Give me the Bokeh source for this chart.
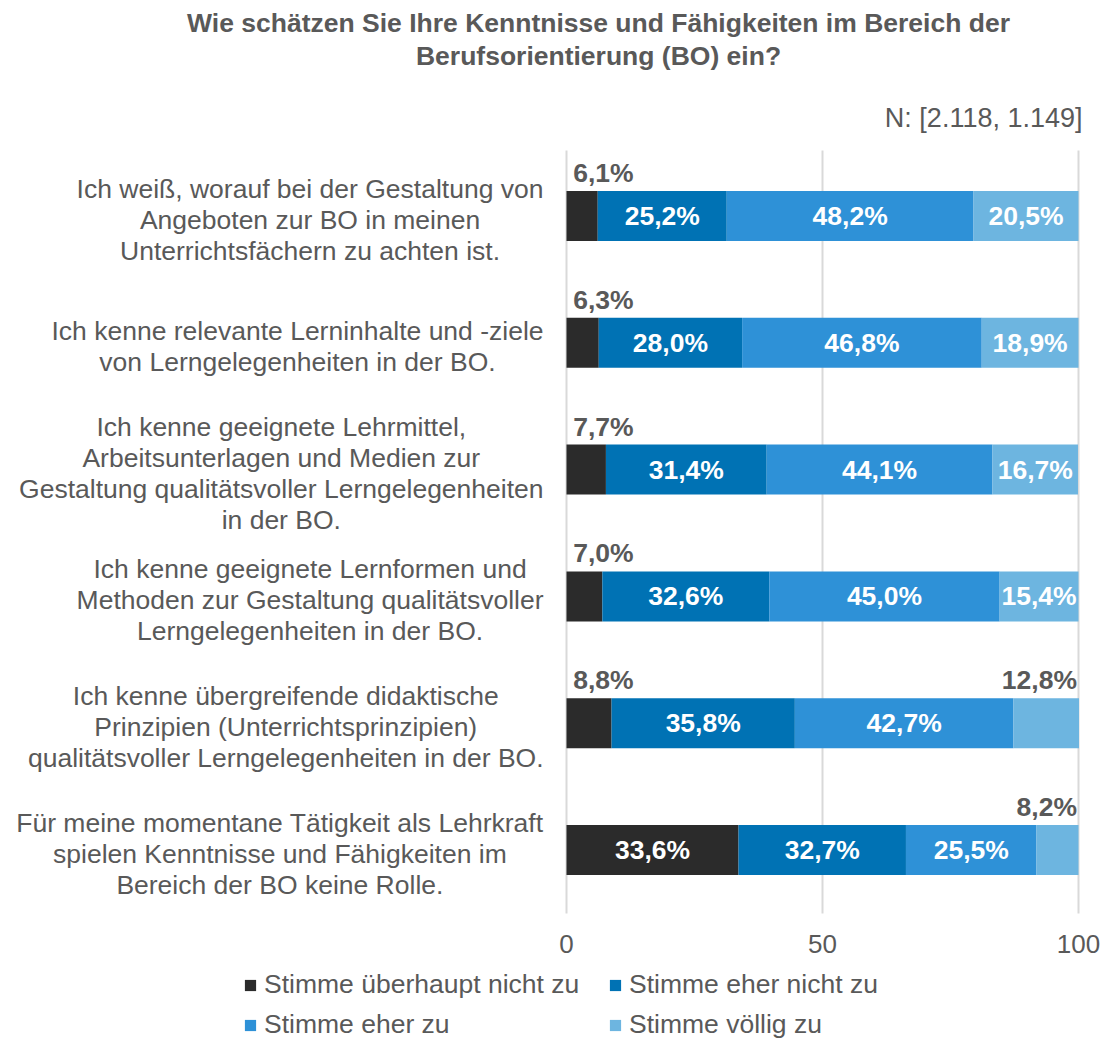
from bokeh.plotting import figure
from bokeh.models import ColumnDataSource, Range1d, Legend, LegendItem
from bokeh.embed import file_html
from bokeh.resources import INLINE
from bokeh.core.properties import value

# ---------------- data ----------------
title_lines = ["Wie schätzen Sie Ihre Kenntnisse und Fähigkeiten im Bereich der",
               "Berufsorientierung (BO) ein?"]
n_text = "N: [2.118, 1.149]"
categories = [
    ["Ich weiß, worauf bei der Gestaltung von", "Angeboten zur BO in meinen",
     "Unterrichtsfächern zu achten ist."],
    ["Ich kenne relevante Lerninhalte und -ziele", "von Lerngelegenheiten in der BO."],
    ["Ich kenne geeignete Lehrmittel,", "Arbeitsunterlagen und Medien zur",
     "Gestaltung qualitätsvoller Lerngelegenheiten", "in der BO."],
    ["Ich kenne geeignete Lernformen und", "Methoden zur Gestaltung qualitätsvoller",
     "Lerngelegenheiten in der BO."],
    ["Ich kenne übergreifende didaktische", "Prinzipien (Unterrichtsprinzipien)",
     "qualitätsvoller Lerngelegenheiten in der BO."],
    ["Für meine momentane Tätigkeit als Lehrkraft", "spielen Kenntnisse und Fähigkeiten im",
     "Bereich der BO keine Rolle."],
]
series_names = ["Stimme überhaupt nicht zu", "Stimme eher nicht zu",
                "Stimme eher zu", "Stimme völlig zu"]
s_ueberhaupt_nicht = [6.1, 6.3, 7.7, 7.0, 8.8, 33.6]
s_eher_nicht = [25.2, 28.0, 31.4, 32.6, 35.8, 32.7]
s_eher_zu = [48.2, 46.8, 44.1, 45.0, 42.7, 25.5]
s_voellig = [20.5, 18.9, 16.7, 15.4, 12.8, 8.2]
x_ticks = [0, 50, 100]

# ---------------- style ----------------
colors = ["#2B2B2B", "#0072B4", "#2E91D7", "#6DB5E0"]
GRAY = "#595959"
FONT = "Liberation Sans"
LBL_FS = 26.5
VAL_FS = 26.5
OUTSIDE_THRESHOLD = 13

W, H = 1100, 1040
PL, PR, PT, PB = 566, 1078, 152, 913      # plot area (value 0..100, rows) in px
PXX = (PR - PL) / 100.0
PXY = (PB - PT) / 6.0
BAR_H = 50 / PXY

def X(px):
    return (px - PL) / PXX

def Y(py):
    return -0.5 + (py - PT) / PXY

# frame spans the whole canvas; everything drawn through its scales
p = figure(width=W, height=H, x_range=Range1d(X(0), X(W)), y_range=Range1d(Y(H), Y(0)),
           min_border=0, output_backend="svg", toolbar_location=None,
           x_axis_location=None, y_axis_location=None)
p.outline_line_color = None
p.background_fill_color = "white"
p.border_fill_color = "white"
p.xgrid.visible = False
p.ygrid.visible = False

# approx Arial widths (1/1000 em) to centre multi-line category blocks
_w = {' ': 278, ',': 278, '.': 278, '-': 333, '(': 333, ')': 333, ':': 278,
      'A': 667, 'B': 667, 'C': 722, 'D': 722, 'E': 667, 'F': 611, 'G': 778, 'H': 722,
      'I': 278, 'J': 500, 'K': 667, 'L': 556, 'M': 833, 'N': 722, 'O': 778, 'P': 667,
      'R': 722, 'S': 667, 'T': 611, 'U': 722, 'V': 667, 'W': 944,
      'a': 556, 'b': 556, 'c': 500, 'd': 556, 'e': 556, 'f': 278, 'g': 556, 'h': 556,
      'i': 222, 'j': 222, 'k': 500, 'l': 222, 'm': 833, 'n': 556, 'o': 556, 'p': 556,
      'q': 556, 'r': 333, 's': 500, 't': 278, 'u': 556, 'v': 500, 'w': 722, 'x': 500,
      'y': 500, 'z': 500, 'ä': 556, 'ö': 556, 'ü': 556, 'ß': 611, 'Ä': 667, 'Ü': 722}

def text_w(s, fs):
    return sum(_w.get(c, 556) for c in s) / 1000.0 * fs

# gridlines and tick labels at the tick values
p.segment(x0=x_ticks, x1=x_ticks, y0=[Y(PT - 2)] * len(x_ticks), y1=[5.5] * len(x_ticks),
          line_color="#D9D9D9", line_width=2)
p.text(x=x_ticks, y=[Y(943)] * len(x_ticks), text=[str(t) for t in x_ticks],
       text_align="center", text_baseline="middle", text_font=value(FONT),
       text_font_size="26px", text_color=GRAY)

ys = list(range(len(categories)))
series = [s_ueberhaupt_nicht, s_eher_nicht, s_eher_zu, s_voellig]
keys = ["s0", "s1", "s2", "s3"]
src = ColumnDataSource(dict(y=ys, **{k: v for k, v in zip(keys, series)}))
rends = p.hbar_stack(keys, y="y", height=BAR_H, color=colors, line_color=None, source=src)

# value labels
in_x, in_y, in_t = [], [], []
ol_x, ol_y, ol_t = [], [], []
or_x, or_y, or_t = [], [], []
for i in ys:
    left = 0.0
    for k, s in enumerate(series):
        v = s[i]
        t = f"{v:.1f}".replace(".", ",") + "%"
        if v >= OUTSIDE_THRESHOLD:
            in_x.append(left + v / 2); in_y.append(i); in_t.append(t)
        elif k == 0:
            ol_x.append(left + 1.3); ol_y.append(i - BAR_H / 2 - 3 / PXY); ol_t.append(t)
        else:
            or_x.append(min(left + v, 99.7)); or_y.append(i - BAR_H / 2 - 3 / PXY); or_t.append(t)
        left += v

vt = dict(text_font=value(FONT), text_font_style="bold", text_font_size=f"{VAL_FS}px")
p.text(x=in_x, y=in_y, text=in_t, text_color="white", text_align="center",
       text_baseline="middle", **vt)
p.text(x=ol_x, y=ol_y, text=ol_t, text_color=GRAY, text_align="left",
       text_baseline="bottom", **vt)
p.text(x=or_x, y=or_y, text=or_t, text_color=GRAY, text_align="right",
       text_baseline="bottom", **vt)

# category labels (block right edge at px 543, lines centred within block)
R_EDGE = X(543)
LINE_SP = 31 / PXY
DOWN = 4 / PXY
cl_x, cl_y, cl_t = [], [], []
for i, lines in enumerate(categories):
    maxw = max(text_w(l, LBL_FS) for l in lines) / PXX
    cx = R_EDGE - maxw / 2
    n = len(lines)
    for j, l in enumerate(lines):
        cl_x.append(cx); cl_y.append(i + DOWN + (j - (n - 1) / 2) * LINE_SP); cl_t.append(l)
p.text(x=cl_x, y=cl_y, text=cl_t, text_align="center", text_baseline="middle",
       text_font=value(FONT), text_font_size=f"{LBL_FS}px", text_color=GRAY)

# title and N
p.text(x=[X(598)] * len(title_lines), y=[Y(22 + j * 33) for j in range(len(title_lines))],
       text=title_lines, text_align="center", text_baseline="middle",
       text_font=value(FONT), text_font_style="bold", text_font_size="26.5px",
       text_color=GRAY)
p.text(x=[X(1082)], y=[Y(117)], text=[n_text], text_align="right", text_baseline="middle",
       text_font=value(FONT), text_font_size="27px", text_color=GRAY)

legend = Legend(items=[LegendItem(label=n, renderers=[r]) for n, r in zip(series_names, rends)],
                orientation="horizontal", ncols=2, location=(243, 0),
                label_text_font=FONT, label_text_font_size="26.5px", label_text_color=GRAY,
                glyph_width=14, glyph_height=14, label_standoff=7, spacing=9,
                label_width=335, label_height=26, padding=0, margin=0,
                border_line_color=None, background_fill_alpha=0)
p.add_layout(legend, "center")

open("out.html", "w").write(file_html(p, INLINE))
